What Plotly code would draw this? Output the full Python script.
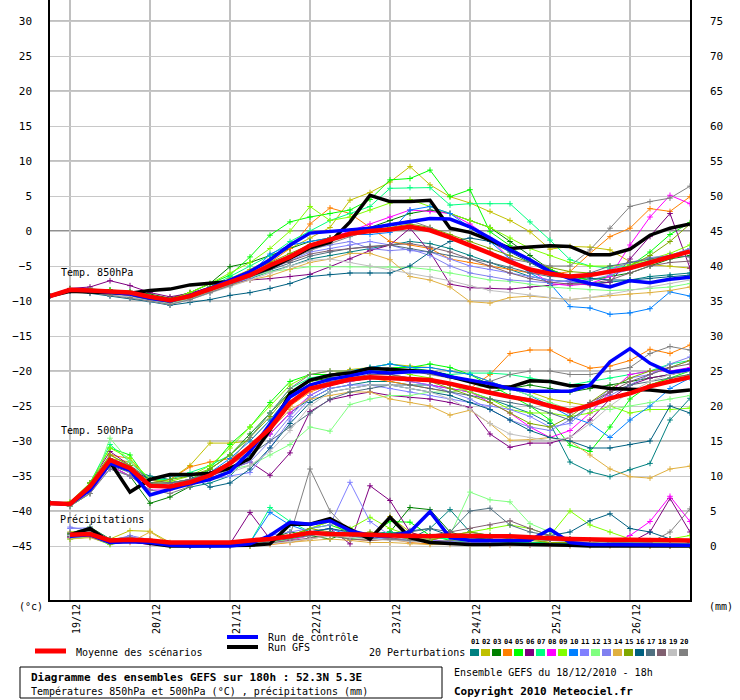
import plotly.graph_objects as go

# 6-hourly steps from 18/12 18h (0) to 26/12 18h (32)
steps = list(range(33))
precip_steps = steps[1:]
day_ticks = [1, 5, 9, 13, 17, 21, 25, 29]
day_labels = ["19/12", "20/12", "21/12", "22/12", "23/12", "24/12", "25/12", "26/12"]
left_ticks = list(range(-45, 31, 5))
right_ticks = list(range(0, 76, 5))

pert_names = ["%02d" % k for k in range(1, 21)]
pert_colors = ["#008080", "#c0c000", "#008000", "#ff8000", "#00ff00", "#800080",
               "#00ff80", "#ff00ff", "#80ff00", "#0080ff", "#8080ff", "#80ff80",
               "#8080f0", "#e0b040", "#80a800", "#006080", "#507080", "#806070",
               "#c0c0c0", "#808080"]

# ---- Temp. 850hPa (°C) ----
t850_mean = [-9.3, -8.4, -8.5, -8.7, -8.8, -9.4, -9.9, -9.3, -8.3, -7.2, -6.3, -4.9, -3.7, -2.1, -1.3, -0.4, 0.0,
             0.2, 0.6, 0.1, -0.9, -2.0, -3.2, -4.4, -5.5, -6.1, -6.5, -6.3, -5.8, -5.3, -4.5, -3.7, -2.9]
t850_ctrl = [-9.3, -8.4, -8.5, -8.8, -9.0, -9.6, -10.0, -9.2, -8.2, -7.0, -5.8, -4.1, -2.0, -0.3, -0.1, 0.2, 0.4,
             0.9, 1.4, 1.8, 1.7, 0.6, -1.0, -2.7, -4.1, -5.8, -6.8, -7.5, -8.0, -7.1, -7.4, -6.9, -6.6]
t850_gfs = [-9.3, -8.6, -8.7, -8.8, -8.9, -8.5, -8.3, -7.7, -7.5, -7.2, -6.3, -5.3, -3.9, -2.4, -1.6, 1.3, 5.1,
            4.2, 4.2, 4.4, 0.4, -0.2, -1.3, -2.5, -2.3, -2.1, -2.2, -3.4, -3.4, -2.6, -0.6, 0.4, 1.0]
t850_pert = [
    [-9.3, -8.5, -8.7, -9.0, -9.3, -9.8, -10.2, -9.6, -8.8, -7.8, -6.8, -5.8, -5.0, -4.0, -3.5, -3.0, -2.6,
     -2.0, -1.5, -1.8, -2.5, -3.5, -4.5, -5.5, -6.5, -7.0, -7.2, -7.5, -7.3, -7.0, -6.5, -6.3, -6.0],
    [-9.3, -8.4, -8.5, -8.6, -8.8, -9.3, -9.8, -9.0, -8.0, -6.8, -5.5, -4.0, -2.5, -1.0, 0.5, 4.4, 5.5,
     7.0, 9.2, 6.6, 4.9, 4.0, 2.8, 1.5, -0.1, -2.6, -2.2, -2.3, -2.7, -4.4, -4.8, -5.0, -5.3],
    [-9.3, -8.3, -8.3, -8.4, -8.6, -9.0, -9.6, -8.8, -7.5, -5.1, -4.5, -3.5, -2.5, -1.5, -1.0, -0.5, 0.5,
     1.5, 2.5, 3.0, 2.5, 1.5, 0.5, -1.5, -3.5, -5.5, -6.5, -7.0, -6.5, -6.0, -5.0, -4.0, -3.5],
    [-9.3, -8.4, -8.6, -8.8, -9.0, -9.5, -10.0, -9.3, -8.2, -7.0, -5.8, -4.5, -2.5, 1.0, 3.3, 2.5, 0.5,
     -1.5, -2.0, -2.5, -4.0, -4.5, -5.0, -5.5, -6.0, -6.2, -5.8, -3.2, -0.8, 0.4, 3.2, 2.8, 4.9],
    [-9.3, -8.3, -8.3, -8.5, -8.7, -9.2, -9.7, -8.8, -7.6, -6.3, -3.7, -0.6, 1.3, 2.0, 2.5, 3.0, 4.5,
     7.3, 7.5, 8.7, 4.9, 5.9, -0.1, -2.1, -4.5, -5.5, -6.5, -7.0, -6.5, -5.0, -3.0, -0.5, 1.2],
    [-9.3, -8.2, -8.0, -7.1, -7.8, -8.8, -9.4, -8.9, -8.0, -7.5, -7.0, -6.8, -6.5, -6.2, -5.1, -4.0, -2.8,
     -2.0, 0.4, -3.0, -7.6, -8.1, -8.2, -8.3, -8.0, -7.8, -7.5, -7.7, -7.3, -4.0, -0.8, 2.5, -5.3],
    [-9.3, -8.4, -8.5, -8.7, -9.0, -9.5, -10.0, -9.2, -8.0, -6.5, -5.0, -3.5, -1.5, 0.0, 1.5, 2.5, 3.5,
     6.1, 6.2, 6.2, 3.7, 3.9, 3.9, 3.9, 1.3, -1.3, -4.1, -5.0, -5.3, -5.0, -4.2, -3.5, -2.5],
    [-9.3, -8.4, -8.6, -8.8, -9.1, -9.6, -10.2, -9.5, -8.5, -7.5, -6.3, -5.0, -3.5, -2.0, -1.0, 0.0, 1.0,
     2.0, 3.0, 2.8, 2.5, 1.0, -1.0, -4.0, -5.5, -7.5, -7.8, -7.5, -6.5, -2.0, 2.0, 5.1, 3.9],
    [-9.3, -8.3, -8.4, -8.6, -8.9, -9.4, -9.8, -8.8, -7.5, -6.0, -4.5, -2.5, 0.0, 3.5, 1.5, 2.0, 3.0,
     4.0, 4.5, 3.5, 2.5, 1.5, 0.5, -1.0, -2.5, -3.5, -4.5, -5.0, -5.0, -4.8, -4.0, -3.2, -2.0],
    [-9.3, -8.5, -8.6, -8.9, -9.2, -9.7, -10.1, -9.4, -8.4, -7.3, -6.2, -3.3, -2.0, -1.5, -1.0, -0.5, -0.5,
     -0.2, 3.0, 3.5, 2.5, 0.5, -1.5, -4.0, -6.0, -7.5, -10.8, -11.0, -11.9, -11.7, -11.1, -8.7, -9.3],
    [-9.3, -8.6, -8.8, -9.1, -9.4, -9.9, -10.4, -9.8, -8.8, -7.6, -6.8, -5.5, -4.2, -3.0, -2.5, -2.0, -1.5,
     -2.0, -2.8, -3.0, -4.0, -5.0, -5.5, -6.0, -6.5, -7.0, -7.3, -7.0, -6.3, -5.5, -4.5, -3.5, -3.0],
    [-9.3, -8.5, -8.7, -9.0, -9.3, -9.8, -10.3, -9.6, -8.6, -7.6, -6.6, -5.8, -5.5, -5.1, -5.1, -5.1, -5.1,
     -5.1, -5.2, -5.5, -6.0, -6.5, -7.0, -7.2, -7.6, -8.0, -8.2, -8.4, -8.5, -8.4, -8.2, -8.0, -7.5],
    [-9.3, -8.4, -8.5, -8.8, -9.1, -9.7, -10.2, -9.5, -8.6, -7.7, -6.5, -5.2, -3.8, -2.6, -2.0, -1.5, -2.5,
     -2.8, -2.6, -3.5, -5.0, -6.0, -6.5, -7.0, -7.2, -7.4, -7.0, -6.2, -5.5, -4.5, -3.8, -3.5, -2.5],
    [-9.3, -8.5, -8.6, -8.9, -9.2, -9.7, -10.2, -9.6, -8.6, -7.8, -7.0, -6.4, -5.5, -4.5, -4.0, -3.2, -3.2,
     -4.1, -6.5, -7.0, -8.0, -10.1, -10.3, -9.5, -9.3, -9.5, -9.8, -9.5, -9.2, -9.0, -8.8, -8.5, -8.0],
    [-9.3, -8.4, -8.5, -8.7, -9.0, -9.6, -10.0, -9.2, -8.2, -7.0, -5.8, -4.5, -3.2, -2.0, -1.0, -0.5, 0.0,
     0.5, 1.0, 0.5, -0.5, -1.5, -2.5, -3.5, -4.5, -5.2, -5.8, -6.0, -5.8, -5.0, -3.5, -1.5, 1.0],
    [-9.3, -8.6, -8.9, -9.3, -9.6, -10.1, -10.6, -10.2, -9.8, -9.2, -8.8, -8.2, -7.5, -6.5, -6.2, -6.0, -6.0,
     -6.0, -5.0, -3.0, -1.5, -1.0, -1.5, -3.0, -4.5, -6.0, -6.5, -6.7, -7.0, -7.0, -6.8, -6.5, -6.3],
    [-9.3, -8.5, -8.7, -9.0, -9.3, -9.8, -10.2, -9.5, -8.5, -7.5, -6.5, -5.5, -4.5, -3.6, -3.0, -2.5, -2.2,
     -2.0, -2.5, -3.0, -3.5, -4.0, -4.5, -5.2, -6.0, -6.5, -6.6, -6.0, -5.0, -4.5, -4.0, -3.5, -3.7],
    [-9.3, -8.4, -8.6, -8.9, -9.2, -9.7, -10.1, -9.3, -8.3, -7.3, -6.3, -5.3, -4.3, -3.3, -2.8, -2.5, -2.3,
     -2.0, -1.8, -2.3, -3.0, -4.0, -5.0, -6.0, -6.8, -7.3, -7.6, -7.5, -7.0, -6.0, -5.0, -4.5, -4.3],
    [-9.3, -8.5, -8.7, -9.0, -9.4, -10.0, -10.5, -9.8, -8.9, -8.0, -7.0, -6.0, -5.0, -4.2, -4.0, -4.5, -5.0,
     -5.5, -6.1, -6.5, -7.1, -7.8, -8.5, -8.8, -9.2, -9.5, -9.8, -9.5, -9.0, -8.5, -8.0, -7.5, -7.0],
    [-9.3, -8.5, -8.8, -9.2, -9.5, -10.0, -10.5, -9.8, -8.8, -7.8, -6.5, -5.3, -4.0, -2.8, -1.8, -0.8, 0.0,
     1.0, 1.5, 0.5, -1.0, -2.0, -3.0, -4.0, -4.5, -5.0, -5.0, -2.7, 0.4, 3.5, 4.2, 4.7, 6.4],
]

# ---- Temp. 500hPa (°C) ----
t500_mean = [-38.9, -39.0, -36.5, -32.7, -33.9, -36.4, -36.5, -35.9, -34.9, -33.2, -30.8, -28.2, -24.6, -22.5,
             -21.9, -21.2, -20.9, -21.0, -21.2, -21.3, -21.8, -22.5, -23.1, -23.7, -24.2, -25.0, -25.7, -24.9,
             -23.9, -23.2, -22.2, -21.5, -20.9]
t500_ctrl = [-38.9, -39.0, -37.0, -33.2, -34.2, -37.7, -36.9, -36.1, -35.5, -34.4, -31.5, -27.5, -23.7, -22.0,
             -21.2, -20.7, -20.1, -20.3, -20.1, -20.1, -20.8, -21.3, -21.8, -22.5, -22.9, -22.9, -22.9, -22.0,
             -18.7, -16.8, -18.9, -20.2, -19.8]
t500_gfs = [-38.9, -39.0, -36.8, -33.0, -37.3, -35.5, -34.8, -34.8, -34.6, -33.9, -32.5, -28.4, -23.2, -21.3,
            -20.6, -20.3, -19.6, -19.8, -19.9, -20.1, -20.8, -21.5, -22.3, -22.3, -21.4, -21.5, -22.1, -22.1,
            -22.5, -22.6, -22.7, -23.0, -22.7]
t500_pert = [
    [-38.9, -39.2, -37.0, -33.5, -34.0, -35.0, -35.5, -36.6, -36.0, -35.0, -32.0, -29.0, -26.0, -24.0, -22.5,
     -22.0, -21.5, -21.5, -22.0, -22.0, -22.5, -23.0, -24.0, -25.0, -26.0, -27.5, -33.0, -34.4, -35.1, -34.1,
     -33.2, -27.0, -23.9],
    [-38.9, -39.0, -36.0, -32.5, -33.0, -35.5, -35.5, -33.5, -30.3, -30.3, -30.0, -27.0, -23.5, -21.5, -20.5,
     -19.8, -19.5, -19.0, -19.3, -19.5, -20.0, -20.5, -21.5, -22.5, -23.0, -24.0, -24.5, -25.0, -24.0, -23.0,
     -22.0, -21.0, -20.5],
    [-38.9, -39.3, -37.5, -33.5, -35.0, -38.9, -38.0, -36.5, -34.0, -32.0, -29.0, -26.0, -23.0, -21.5, -21.0,
     -21.0, -21.0, -21.0, -21.3, -21.5, -22.0, -22.5, -23.0, -22.5, -22.0, -22.5, -23.0, -22.5, -22.0, -21.5,
     -21.0, -20.5, -20.0],
    [-38.9, -39.0, -36.5, -32.0, -32.5, -36.0, -35.5, -33.7, -33.0, -32.5, -31.0, -28.5, -25.0, -23.0, -22.0,
     -21.5, -21.0, -21.5, -22.0, -22.5, -23.0, -22.5, -20.5, -17.5, -17.0, -17.0, -18.5, -19.6, -19.3, -18.5,
     -16.9, -17.5, -16.3],
    [-38.9, -38.8, -36.0, -31.0, -32.0, -36.0, -36.0, -35.5, -34.0, -30.5, -28.0, -24.5, -21.5, -20.5, -20.5,
     -20.5, -20.0, -19.5, -19.5, -19.0, -19.5, -20.5, -22.0, -23.5, -25.0, -27.0, -30.6, -31.5, -28.0, -24.0,
     -22.0, -21.0, -20.0],
    [-38.9, -39.2, -36.0, -31.5, -33.5, -35.5, -36.0, -35.5, -35.0, -34.0, -33.0, -34.9, -31.7, -25.8, -24.1,
     -23.5, -23.0, -23.5, -23.8, -24.0, -24.5, -25.2, -29.0, -30.9, -30.3, -30.3, -29.5, -27.0, -24.0, -22.0,
     -21.0, -20.5, -20.0],
    [-38.9, -39.0, -36.0, -30.5, -33.0, -35.5, -35.5, -34.5, -33.5, -32.0, -29.5, -26.0, -22.5, -21.0, -20.5,
     -20.0, -19.5, -19.0, -19.5, -20.0, -20.5, -20.3, -20.3, -20.5, -21.0, -21.5, -22.0, -21.5, -21.0, -20.5,
     -20.0, -19.0, -18.5],
    [-38.9, -39.0, -37.5, -33.5, -35.0, -37.0, -37.0, -36.0, -35.0, -33.5, -31.5, -29.0, -26.0, -23.5, -22.0,
     -21.5, -21.0, -21.0, -21.5, -22.0, -22.5, -23.0, -24.5, -26.0, -28.0, -29.5, -28.5, -26.0, -23.0, -20.5,
     -20.0, -20.0, -19.5],
    [-38.9, -38.7, -36.0, -31.0, -32.5, -35.5, -35.8, -35.0, -33.5, -31.0, -28.0, -25.0, -22.0, -20.5, -20.0,
     -20.0, -20.0, -20.0, -20.5, -21.0, -22.0, -23.0, -24.0, -25.5, -26.0, -26.0, -26.5, -26.0, -25.0, -26.0,
     -25.5, -25.5, -25.3],
    [-38.9, -39.0, -36.5, -32.5, -33.5, -36.5, -36.0, -35.5, -34.5, -32.5, -30.0, -27.0, -23.5, -21.5, -20.5,
     -20.0, -19.5, -19.0, -19.5, -19.5, -20.0, -20.5, -21.5, -22.5, -23.5, -25.0, -26.5, -27.5, -29.5, -27.0,
     -25.0, -22.5, -21.0],
    [-38.9, -39.2, -37.0, -34.0, -35.0, -36.5, -36.0, -36.0, -35.5, -35.0, -34.5, -31.0, -27.0, -24.0, -22.5,
     -22.0, -22.0, -22.5, -23.0, -23.5, -24.0, -24.5, -25.0, -25.5, -26.5, -28.0, -27.5, -25.0, -22.5, -21.0,
     -20.5, -19.5, -18.5],
    [-38.9, -39.3, -37.5, -29.6, -33.0, -36.0, -36.5, -36.0, -35.5, -34.0, -33.5, -32.0, -30.5, -28.0, -28.6,
     -24.8, -24.0, -23.5, -23.5, -23.0, -23.0, -22.5, -22.0, -22.5, -23.5, -24.5, -25.5, -25.5, -25.5, -25.0,
     -24.5, -24.0, -23.5],
    [-38.9, -39.0, -36.5, -33.0, -34.5, -36.5, -36.5, -36.0, -35.0, -34.0, -33.0, -30.0, -26.5, -23.5, -22.0,
     -21.5, -21.0, -21.0, -21.5, -22.0, -23.0, -24.0, -25.5, -27.0, -28.0, -28.5, -27.0, -25.0, -23.5, -22.0,
     -20.5, -19.0, -18.0],
    [-38.9, -39.0, -36.5, -32.0, -33.5, -36.0, -36.0, -35.5, -35.0, -33.5, -31.5, -28.5, -25.5, -24.0, -23.5,
     -23.0, -23.0, -24.0, -24.5, -25.0, -26.3, -25.6, -27.5, -29.9, -29.8, -29.5, -30.0, -32.0, -34.0, -35.1,
     -35.3, -34.0, -33.6],
    [-38.9, -39.0, -36.0, -32.0, -33.5, -36.0, -35.5, -35.0, -34.0, -32.0, -29.5, -26.5, -23.0, -21.5, -20.5,
     -20.0, -20.0, -20.5, -21.0, -21.5, -22.5, -23.5, -24.5, -26.0, -27.5, -28.0, -26.5, -24.5, -22.5, -21.0,
     -20.0, -19.5, -18.5],
    [-38.9, -39.2, -37.0, -33.5, -34.0, -35.5, -35.0, -35.0, -36.6, -36.0, -34.0, -31.0, -27.5, -24.5, -23.0,
     -22.5, -22.0, -22.0, -22.5, -23.0, -23.5, -24.5, -25.5, -27.0, -28.5, -29.5, -30.0, -31.0, -31.0, -30.5,
     -30.0, -25.0, -26.0],
    [-38.9, -39.1, -37.0, -33.5, -34.5, -36.0, -36.0, -35.5, -34.5, -33.0, -32.0, -30.0, -28.0, -26.0, -24.0,
     -23.0, -22.5, -22.0, -22.0, -22.5, -23.0, -23.5, -24.0, -24.5, -25.0, -26.0, -27.0, -25.0, -23.0, -22.0,
     -21.5, -21.0, -20.5],
    [-38.9, -39.0, -36.5, -32.5, -34.0, -36.5, -36.5, -35.5, -34.5, -33.0, -31.0, -28.0, -24.5, -22.5, -21.5,
     -21.0, -20.5, -20.5, -21.0, -21.5, -22.0, -22.5, -23.0, -23.5, -24.0, -25.0, -26.0, -24.5, -23.0, -21.5,
     -20.5, -19.5, -19.0],
    [-38.9, -39.2, -37.0, -33.0, -34.5, -36.5, -36.5, -36.0, -35.5, -34.5, -33.5, -31.5, -28.5, -25.0, -23.0,
     -22.5, -22.0, -22.0, -22.5, -23.0, -24.0, -25.5, -27.5, -29.0, -29.5, -30.0, -29.5, -27.5, -25.0, -23.0,
     -21.5, -20.5, -20.0],
    [-38.9, -39.3, -37.5, -34.0, -35.0, -37.0, -37.5, -36.5, -35.0, -33.0, -29.5, -26.0, -22.5, -20.5, -20.0,
     -20.0, -19.8, -19.5, -20.0, -20.5, -21.0, -21.5, -21.5, -20.5, -20.0, -20.0, -20.5, -20.5, -20.0, -19.5,
     -17.5, -16.5, -17.0],
]

# ---- Précipitations (mm), from 19/12 00h ----
precip_mean = [1.6, 1.7, 0.8, 0.9, 0.8, 0.5, 0.5, 0.5, 0.5, 0.8, 1.0, 1.4, 1.9, 1.7, 1.7, 1.6,
               1.5, 1.4, 1.4, 1.5, 1.4, 1.4, 1.4, 1.2, 1.1, 1.0, 0.9, 0.9, 0.9, 0.9, 0.9, 0.8]
precip_ctrl = [1.4, 1.6, 0.5, 0.6, 0.5, 0.1, 0.0, 0.0, 0.0, 0.3, 1.5, 3.4, 3.1, 3.6, 2.2, 1.5,
               1.4, 2.0, 4.9, 1.2, 0.8, 0.8, 0.8, 0.8, 2.4, 0.5, 0.2, 0.2, 0.1, 0.1, 0.1, 0.1]
precip_gfs = [1.6, 2.5, 0.5, 0.8, 0.4, 0.0, 0.0, 0.0, 0.0, 0.1, 0.3, 3.1, 3.1, 3.9, 2.4, 1.0,
              4.1, 1.2, 0.5, 0.3, 0.2, 0.2, 0.3, 0.2, 0.2, 0.1, 0.0, 0.0, 0.0, 0.0, 0.0, 0.0]
precip_pert = [
    [1.5, 2.0, 0.8, 1.0, 0.6, 0.2, 0.0, 0.0, 0.1, 0.3, 0.5, 1.0, 1.5, 2.0, 1.5, 1.8,
     2.0, 1.0, 2.5, 5.2, 2.0, 1.5, 1.2, 1.0, 0.8, 1.0, 0.8, 0.6, 0.5, 0.4, 0.3, 0.3],
    [2.0, 2.2, 1.0, 2.2, 2.1, 0.5, 0.1, 0.0, 0.0, 0.2, 0.5, 1.5, 2.5, 3.5, 1.5, 1.0,
     4.2, 2.0, 1.0, 1.5, 1.0, 0.8, 0.5, 1.0, 0.5, 0.5, 0.3, 0.2, 0.2, 0.1, 0.1, 0.1],
    [1.8, 2.7, 1.0, 1.2, 0.4, 0.0, 0.0, 0.0, 0.0, 0.1, 1.0, 2.0, 1.5, 1.0, 2.0, 1.5,
     2.0, 5.5, 5.2, 2.0, 1.2, 1.0, 0.8, 0.5, 0.5, 0.3, 0.2, 0.2, 0.1, 0.1, 0.0, 0.0],
    [1.2, 1.5, 0.5, 0.8, 1.0, 0.3, 0.0, 0.0, 0.0, 0.0, 0.2, 0.5, 1.0, 1.5, 1.0, 0.8,
     1.0, 0.5, 0.3, 0.5, 1.0, 0.8, 0.5, 0.3, 0.2, 0.2, 0.1, 0.1, 0.1, 0.0, 0.0, 0.0],
    [1.0, 1.3, 0.2, 0.8, 0.3, 0.0, 0.0, 0.0, 0.0, 0.0, 0.5, 1.0, 2.5, 3.0, 2.0, 1.5,
     3.5, 3.4, 1.5, 0.8, 0.5, 0.5, 0.8, 1.0, 1.5, 0.5, 0.5, 0.2, 0.2, 0.1, 0.2, 0.0],
    [1.3, 1.6, 0.6, 0.8, 0.5, 0.1, 0.0, 0.0, 0.3, 4.8, 1.0, 1.5, 2.0, 2.5, 0.3, 8.6,
     6.5, 2.0, 1.0, 0.5, 0.5, 0.3, 0.3, 0.2, 0.1, 0.1, 0.1, 0.2, 0.5, 2.0, 6.8, 2.0],
    [1.5, 1.8, 0.5, 1.0, 0.4, 0.0, 0.0, 0.0, 0.0, 0.5, 5.5, 3.5, 2.0, 1.5, 1.0, 1.5,
     2.0, 1.5, 1.2, 1.0, 0.8, 0.6, 0.5, 0.5, 0.4, 0.4, 0.3, 0.3, 0.3, 0.2, 0.2, 0.2],
    [1.2, 1.4, 0.4, 0.6, 0.2, 0.0, 0.0, 0.0, 0.0, 0.2, 0.5, 0.8, 1.5, 2.0, 1.5, 1.0,
     1.5, 1.0, 0.8, 0.5, 0.5, 0.3, 0.3, 0.2, 0.2, 0.2, 0.3, 0.3, 1.5, 3.5, 7.1, 3.5],
    [1.4, 1.7, 0.3, 0.9, 0.4, 0.0, 0.0, 0.0, 0.0, 0.3, 0.8, 1.5, 2.5, 3.5, 2.5, 4.1,
     2.5, 1.5, 1.0, 1.5, 2.0, 2.5, 3.0, 2.5, 1.5, 5.0, 3.0, 2.0, 1.0, 0.8, 1.0, 1.5],
    [1.6, 1.9, 0.7, 1.1, 0.5, 0.1, 0.0, 0.0, 0.0, 0.5, 4.8, 3.0, 2.0, 2.5, 1.5, 1.0,
     1.0, 0.8, 0.6, 0.5, 0.5, 0.4, 0.4, 0.3, 0.3, 0.3, 0.2, 0.2, 0.2, 0.2, 0.1, 0.1],
    [2.5, 2.6, 0.9, 1.3, 0.8, 0.2, 0.0, 0.0, 0.1, 0.5, 1.5, 2.0, 2.5, 3.0, 9.1, 3.5,
     1.5, 1.0, 0.8, 0.6, 0.5, 0.4, 0.3, 0.3, 0.2, 0.2, 0.2, 0.2, 0.2, 0.1, 0.1, 0.1],
    [1.1, 1.3, 0.4, 0.7, 0.3, 0.0, 0.0, 0.0, 0.0, 0.2, 0.5, 1.0, 1.5, 2.0, 1.0, 1.0,
     1.5, 1.2, 1.0, 1.5, 7.7, 6.6, 6.3, 3.2, 2.0, 1.0, 0.8, 0.6, 0.5, 0.5, 0.4, 0.4],
    [2.7, 2.2, 0.7, 1.5, 0.9, 0.3, 0.0, 0.0, 0.0, 0.3, 1.0, 1.5, 2.0, 2.5, 1.8, 1.5,
     1.0, 0.8, 0.6, 0.5, 0.5, 0.4, 0.3, 0.3, 0.2, 0.2, 0.1, 0.1, 0.1, 0.1, 0.0, 0.0],
    [1.0, 1.2, 0.3, 0.5, 2.0, 0.3, 0.0, 0.0, 0.0, 0.0, 0.3, 0.5, 0.8, 1.0, 0.8, 0.5,
     0.5, 0.3, 0.2, 0.2, 0.2, 0.1, 0.1, 0.1, 0.1, 0.0, 0.0, 0.0, 0.0, 0.0, 0.0, 0.0],
    [1.7, 2.0, 0.8, 1.1, 0.7, 0.1, 0.0, 0.0, 0.0, 0.2, 0.8, 1.5, 2.5, 2.0, 1.5, 2.0,
     1.5, 1.0, 0.8, 1.5, 2.0, 1.5, 1.0, 0.8, 0.5, 0.5, 0.4, 0.3, 0.2, 0.2, 0.2, 0.3],
    [1.4, 1.6, 0.6, 0.9, 0.5, 0.1, 0.0, 0.0, 0.0, 0.3, 1.0, 1.5, 2.0, 2.5, 2.0, 1.5,
     1.8, 2.2, 2.5, 1.5, 1.0, 1.2, 1.5, 1.0, 1.5, 2.0, 3.6, 4.6, 2.5, 2.0, 1.0, 0.5],
    [1.6, 1.8, 0.7, 1.0, 0.6, 0.2, 0.0, 0.0, 0.0, 0.2, 0.6, 1.0, 1.5, 2.0, 1.5, 1.0,
     1.5, 2.0, 2.5, 2.0, 5.0, 5.4, 3.0, 2.0, 1.5, 1.0, 0.8, 0.5, 0.4, 0.3, 0.3, 0.2],
    [1.3, 1.5, 0.5, 0.8, 0.4, 0.1, 0.0, 0.0, 0.0, 0.1, 0.4, 0.8, 1.2, 1.5, 1.0, 0.8,
     1.0, 1.2, 1.5, 2.0, 2.5, 3.0, 3.6, 2.5, 1.5, 1.0, 0.8, 0.5, 0.4, 0.3, 0.2, 0.2],
    [1.5, 1.7, 0.6, 0.9, 0.5, 0.1, 0.0, 0.0, 0.0, 0.1, 0.3, 0.6, 1.0, 1.5, 1.2, 1.0,
     0.8, 0.6, 0.5, 0.4, 0.3, 0.3, 0.2, 0.2, 0.2, 0.1, 0.1, 0.1, 0.1, 0.1, 0.1, 0.1],
    [1.9, 2.1, 1.0, 1.2, 0.8, 0.2, 0.0, 0.0, 0.0, 0.3, 0.8, 1.5, 11.0, 5.0, 2.0, 1.5,
     1.0, 0.8, 0.6, 0.8, 1.0, 1.5, 1.2, 1.0, 0.8, 0.6, 0.5, 0.4, 0.4, 0.5, 2.0, 5.3],
]

FONT = "DejaVu Sans Mono"


def px(x):
    return (x - 50) / 640.0


def py(y):
    return (600 - y) / 600.0


fig = go.Figure()

# perturbations (thin lines with small crosses)
for k, col in enumerate(pert_colors):
    mk = dict(symbol="cross-thin", size=4, color=col, line=dict(width=1, color=col))
    for series in (t850_pert[k], t500_pert[k]):
        fig.add_trace(go.Scatter(x=steps, y=series, mode="lines+markers",
                                 line=dict(color=col, width=1), marker=mk))
    fig.add_trace(go.Scatter(x=precip_steps, y=precip_pert[k], yaxis="y2", mode="lines+markers",
                             line=dict(color=col, width=1), marker=mk))

# GFS run, control run, ensemble mean
for t850, t500, pr, col, w in [(t850_gfs, t500_gfs, precip_gfs, "#000000", 3.5),
                               (t850_ctrl, t500_ctrl, precip_ctrl, "#0000ff", 3.5),
                               (t850_mean, t500_mean, precip_mean, "#ff0000", 4.5)]:
    fig.add_trace(go.Scatter(x=steps, y=t850, mode="lines", line=dict(color=col, width=w)))
    fig.add_trace(go.Scatter(x=steps, y=t500, mode="lines", line=dict(color=col, width=w)))
    fig.add_trace(go.Scatter(x=precip_steps, y=pr, yaxis="y2", mode="lines", line=dict(color=col, width=w)))

shapes = []
# heavier grid lines every 10 degrees, darker line at 0
for v in range(-40, 31, 10):
    shapes.append(dict(type="line", xref="paper", x0=0, x1=1, yref="y", y0=v, y1=v, layer="below",
                       line=dict(color="#909090" if v == 0 else "#c0c0c0", width=2)))

# legend swatches
shapes.append(dict(type="line", xref="paper", yref="paper", x0=px(35), x1=px(66), y0=py(651), y1=py(651),
                   line=dict(color="#ff0000", width=5)))
shapes.append(dict(type="line", xref="paper", yref="paper", x0=px(227), x1=px(258), y0=py(637), y1=py(637),
                   line=dict(color="#0000ff", width=4)))
shapes.append(dict(type="line", xref="paper", yref="paper", x0=px(227), x1=px(258), y0=py(647), y1=py(647),
                   line=dict(color="#000000", width=4)))
for k, col in enumerate(pert_colors):
    x0 = 470 + 11 * k
    shapes.append(dict(type="rect", xref="paper", yref="paper", x0=px(x0), x1=px(x0 + 9),
                       y0=py(656), y1=py(649), fillcolor=col, line=dict(width=0)))
# title box
shapes.append(dict(type="rect", xref="paper", yref="paper", x0=px(20), x1=px(442), y0=py(698), y1=py(667),
                   line=dict(color="#000000", width=1)))

annotations = []
for d, lab in zip(day_ticks, day_labels):
    annotations.append(dict(x=d, xref="x", y=0, yref="paper", text=lab, textangle=-90, showarrow=False,
                            xanchor="center", yanchor="top", xshift=6, yshift=-2,
                            font=dict(family=FONT, size=10, color="black")))


def label(x, y, text, size=10, anchor="left", bold=False):
    annotations.append(dict(x=px(x), y=py(y), xref="paper", yref="paper", showarrow=False,
                            text="<b>%s</b>" % text if bold else text, xanchor=anchor, yanchor="middle",
                            font=dict(family=FONT, size=size, color="black")))


label(59, 272, "Temp. 850hPa")
label(59, 430, "Temp. 500hPa")
label(58, 519, "Précipitations")
label(31, 606, "(°c)", anchor="center")
label(721, 606, "(mm)", anchor="center")
label(74, 652, "Moyenne des scénarios")
label(266, 637, "Run de contrôle")
label(266, 647, "Run GFS")
label(467, 652, "20 Perturbations", anchor="right")
for k, name in enumerate(pert_names):
    label(474.5 + 11 * k, 642, name, size=7, anchor="center", bold=True)
label(29, 677, "Diagramme des ensembles GEFS sur 180h : 52.3N 5.3E", size=11, bold=True)
label(29, 691, "Températures 850hPa et 500hPa (°C) , précipitations (mm)")
label(452, 672, "Ensemble GEFS du 18/12/2010 - 18h")
label(452, 691, "Copyright 2010 Meteociel.fr", size=11, bold=True)

fig.update_layout(
    width=740, height=700,
    margin=dict(l=50, r=50, t=0, b=100),
    paper_bgcolor="white", plot_bgcolor="white",
    showlegend=False, hovermode=False,
    shapes=shapes, annotations=annotations,
    xaxis=dict(range=[0, 32], tickvals=day_ticks, showticklabels=False, ticks="",
               showgrid=True, gridcolor="#c0c0c0", gridwidth=1.5, zeroline=False,
               showline=True, linecolor="black", linewidth=1.5),
    yaxis=dict(range=[-52.714, 33], tickvals=left_ticks, ticks="", ticklabelstandoff=14,
               tickfont=dict(family=FONT, size=11, color="black"),
               showgrid=True, gridcolor="#c8c8c8", gridwidth=1, zeroline=False,
               showline=True, linecolor="black", linewidth=1.5),
    yaxis2=dict(range=[-7.714, 78], tickvals=right_ticks, overlaying="y", side="right", ticks="",
                ticklabelstandoff=16, tickfont=dict(family=FONT, size=11, color="black"),
                showgrid=False, zeroline=False, showline=True, linecolor="black", linewidth=1.5),
)

# the page body has a default 8px margin; drop it so the figure sits at the window's corner
fig.write_html("out.html", config={"displayModeBar": False},
               post_script="document.body.style.margin='0';")
